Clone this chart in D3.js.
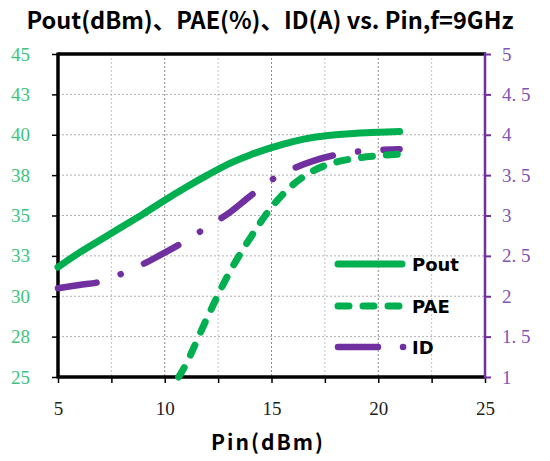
<!DOCTYPE html>
<html>
<head>
<meta charset="utf-8">
<script src="https://cdn.jsdelivr.net/npm/d3@7"></script>
<style>
  body { margin: 0; background: #fff; }
  svg { display: block; }
</style>
</head>
<body>
<script>
'use strict';

// data
const pinPout = [5, 6, 7, 8, 9, 10, 11, 12, 13, 14, 15, 16, 17, 18, 19, 20, 21];
const pout    = [31.8, 32.7, 33.5, 34.3, 35.1, 35.95, 36.75, 37.5, 38.2, 38.75, 39.2, 39.58, 39.85, 40.0, 40.1, 40.15, 40.2];

const pinPae  = [10.65, 11, 12, 13, 14, 15, 16, 17, 18, 19, 20, 21];
const pae     = [25, 25.8, 28.7, 31.4, 33.6, 35.5, 36.9, 37.8, 38.3, 38.55, 38.7, 38.8];

const pinId   = [5, 6, 7, 8, 9, 10, 11, 12, 13, 14, 15, 16, 17, 18, 19, 20, 21];
const idA     = [2.10, 2.14, 2.18, 2.28, 2.40, 2.54, 2.69, 2.86, 3.03, 3.24, 3.44, 3.58, 3.68, 3.75, 3.79, 3.81, 3.82];

const xTicks      = [5, 10, 15, 20, 25];
const xMinorTicks = [5, 7.5, 10, 12.5, 15, 17.5, 20, 22.5, 25];
const leftTicks   = [25, 27.5, 30, 32.5, 35, 37.5, 40, 42.5, 45];
const rightTicks  = [1, 1.5, 2, 2.5, 3, 3.5, 4, 4.5, 5];
const legendNames = ['Pout', 'PAE', 'ID'];

const green = '#00b050';
const purple = '#7030a0';
const numFont = 'Liberation Serif';
const box = {left: 58, right: 485, top: 54, bottom: 377};

const svg = d3.select('body').append('svg')
  .attr('width', 550)
  .attr('height', 461);

const x = d3.scaleLinear().domain([5, 25]).range([box.left, box.right]);
const yL = d3.scaleLinear().domain([25, 45]).range([box.bottom, box.top]);
const yR = d3.scaleLinear().domain([1, 5]).range([box.bottom, box.top]);

// title
svg.append('text')
  .attr('x', 270)
  .attr('y', 29)
  .attr('text-anchor', 'middle')
  .style('font-family', '"Noto Sans CJK SC", sans-serif')
  .style('font-weight', 'bold')
  .style('font-size', '23.5px')
  .text('Pout(dBm)、PAE(%)、ID(A) vs. Pin,f=9GHz');

// grid
const grid = svg.append('g');
xMinorTicks.filter(d => d > 5 && d < 25).forEach(d => {
  grid.append('line')
    .attr('x1', x(d)).attr('x2', x(d))
    .attr('y1', box.top).attr('y2', box.bottom)
    .attr('stroke', d % 5 === 0 ? '#8a8a8a' : '#c4c4c4')
    .attr('stroke-width', 1)
    .attr('stroke-dasharray', '2,2');
});
leftTicks.filter(d => d > 25 && d < 45).forEach(d => {
  grid.append('line')
    .attr('x1', box.left).attr('x2', box.right)
    .attr('y1', yL(d)).attr('y2', yL(d))
    .attr('stroke', '#b0b0b0')
    .attr('stroke-width', 1)
    .attr('stroke-dasharray', '2,2');
});

// axes
const xAxis = svg.append('g')
  .attr('transform', 'translate(0,' + box.bottom + ')')
  .call(d3.axisBottom(x).tickValues(xMinorTicks).tickSize(6)
    .tickFormat(d => xTicks.includes(d) ? d : ''))
  .attr('font-family', numFont).attr('font-size', 19);
xAxis.select('.domain').remove();
xAxis.selectAll('line').attr('stroke', '#000').attr('stroke-width', 1.5);
xAxis.selectAll('text')
  .attr('dy', 0).attr('y', 38)
  .attr('fill', '#222');

const leftAxis = svg.append('g')
  .attr('transform', 'translate(' + box.left + ',0)')
  .call(d3.axisLeft(yL).tickValues(leftTicks).tickSize(6).tickFormat(d3.format('.0f')))
  .attr('font-family', numFont).attr('font-size', 19);
leftAxis.select('.domain').remove();
leftAxis.selectAll('line').attr('stroke', '#000').attr('stroke-width', 1.5);
leftAxis.selectAll('text')
  .attr('x', -28)
  .attr('fill', '#3cc47c');

const rightAxis = svg.append('g')
  .attr('transform', 'translate(' + box.right + ',0)')
  .call(d3.axisRight(yR).tickValues(rightTicks).tickSize(6)
    .tickFormat(d => Number.isInteger(d) ? d : String(d).replace('.', '. ')))
  .attr('font-family', numFont).attr('font-size', 19);
rightAxis.select('.domain').remove();
rightAxis.selectAll('line').attr('stroke', purple).attr('stroke-width', 2);
rightAxis.selectAll('text')
  .attr('x', 17)
  .attr('fill', '#7f55b5');

// frame
svg.append('line')
  .attr('x1', box.left).attr('x2', box.right + 1)
  .attr('y1', box.top).attr('y2', box.top)
  .attr('stroke', '#000').attr('stroke-width', 3.5);
svg.append('line')
  .attr('x1', box.left).attr('x2', box.right)
  .attr('y1', box.bottom).attr('y2', box.bottom)
  .attr('stroke', '#000').attr('stroke-width', 3.5);
svg.append('line')
  .attr('x1', box.left).attr('x2', box.left)
  .attr('y1', box.top - 1.5).attr('y2', box.bottom + 1.5)
  .attr('stroke', '#000').attr('stroke-width', 3.5);
svg.append('line')
  .attr('x1', box.right).attr('x2', box.right)
  .attr('y1', box.top - 1.5).attr('y2', box.bottom + 1.5)
  .attr('stroke', purple).attr('stroke-width', 2.5);

// series
const lineL = d3.line()
  .x(d => x(d[0]))
  .y(d => yL(d[1]))
  .curve(d3.curveCatmullRom.alpha(0.5));
const lineR = d3.line()
  .x(d => x(d[0]))
  .y(d => yR(d[1]))
  .curve(d3.curveCatmullRom.alpha(0.5));

const series = svg.append('g').attr('fill', 'none').attr('stroke-linecap', 'round');

series.append('path')
  .datum(d3.zip(pinId, idA))
  .attr('d', lineR)
  .attr('stroke', purple)
  .attr('stroke-width', 6.5)
  .attr('stroke-dasharray', '39,25.5,0.1,25.5');

series.append('path')
  .datum(d3.zip(pinPae, pae))
  .attr('d', lineL)
  .attr('stroke', green)
  .attr('stroke-width', 7)
  .attr('stroke-dasharray', '11,14');

series.append('path')
  .datum(d3.zip(pinPout, pout))
  .attr('d', lineL)
  .attr('stroke', green)
  .attr('stroke-width', 7);

// legend
const legendY = [264, 306, 347];
const legend = svg.append('g').attr('stroke-linecap', 'round');
legend.append('line')
  .attr('x1', 338).attr('x2', 402).attr('y1', legendY[0]).attr('y2', legendY[0])
  .attr('stroke', green).attr('stroke-width', 7);
legend.append('line')
  .attr('x1', 338).attr('x2', 402).attr('y1', legendY[1]).attr('y2', legendY[1])
  .attr('stroke', green).attr('stroke-width', 7)
  .attr('stroke-dasharray', '11,14');
legend.append('line')
  .attr('x1', 338).attr('x2', 404).attr('y1', legendY[2]).attr('y2', legendY[2])
  .attr('stroke', purple).attr('stroke-width', 6.5)
  .attr('stroke-dasharray', '40,25,0.1,25');
legendNames.forEach((name, i) => {
  legend.append('text')
    .attr('x', 412)
    .attr('y', legendY[i] + 7)
    .style('font-family', 'DejaVu Sans, sans-serif')
    .style('font-weight', 'bold')
    .style('font-size', '18px')
    .attr('fill', '#000')
    .text(name);
});

// x label
svg.append('text')
  .attr('x', 268)
  .attr('y', 450)
  .attr('text-anchor', 'middle')
  .style('font-family', '"Noto Sans CJK SC", sans-serif')
  .style('font-weight', 'bold')
  .style('font-size', '21px')
  .style('letter-spacing', '2px')
  .text('Pin(dBm)');
</script>
</body>
</html>
